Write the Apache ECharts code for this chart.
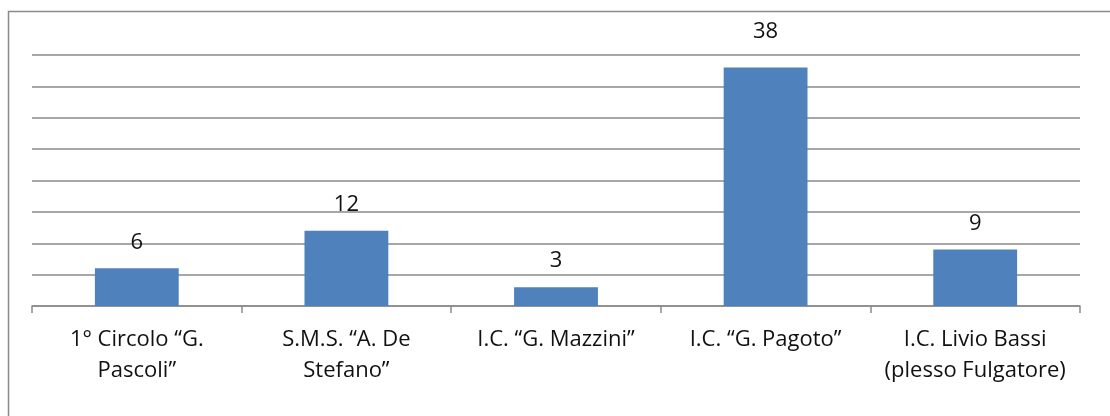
<!DOCTYPE html>
<html><head><meta charset="utf-8">
<script src="https://cdn.jsdelivr.net/npm/echarts@6/dist/echarts.min.js"></script>
<style>html,body{margin:0;padding:0;background:#fff}#c{width:1110px;height:416px}</style>
</head><body><div id="c"></div>
<script>
const categories = ['1° Circolo “G.\nPascoli”', 'S.M.S. “A. De\nStefano”', 'I.C. “G. Mazzini”', 'I.C. “G. Pagoto”', 'I.C. Livio Bassi\n(plesso Fulgatore)'];
const values = [6, 12, 3, 38, 9];
const yMin = 0, yMax = 40, yStep = 5;

const chart = echarts.init(document.getElementById('c'), null, {renderer: 'canvas'});
chart.setOption({
  animation: false,
  backgroundColor: '#fff',
  textStyle: {fontFamily: 'Open Sans'},
  graphic: [{type: 'rect', shape: {x: 8.5, y: 11.5, width: 1200, height: 500}, style: {fill: 'none', stroke: '#8a8a8a', lineWidth: 1.5}, silent: true}],
  grid: {left: 32, right: 30, top: 55, bottom: 110, containLabel: false},
  xAxis: {
    type: 'category', data: categories,
    axisLine: {lineStyle: {color: '#8a8a8a', width: 1.5}},
    axisTick: {show: true, length: 7, lineStyle: {color: '#8a8a8a', width: 1.5}},
    axisLabel: {color: '#111', fontSize: 22, fontFamily: 'Open Sans', lineHeight: 31, margin: 18, interval: 0}
  },
  yAxis: {
    type: 'value', min: yMin, max: yMax, interval: yStep,
    axisLabel: {show: false}, axisLine: {show: false}, axisTick: {show: false},
    splitLine: {lineStyle: {color: '#8a8a8a', width: 1.5}}
  },
  series: [{
    type: 'bar',
    data: values.map((v, i) => i === 3 ? {value: v, label: {distance: 25}} : v),
    barWidth: '40%',
    itemStyle: {color: '#4f81bd'},
    label: {show: true, position: 'top', distance: 15, color: '#111', fontSize: 22, fontFamily: 'Open Sans'}
  }]
});
</script></body></html>
